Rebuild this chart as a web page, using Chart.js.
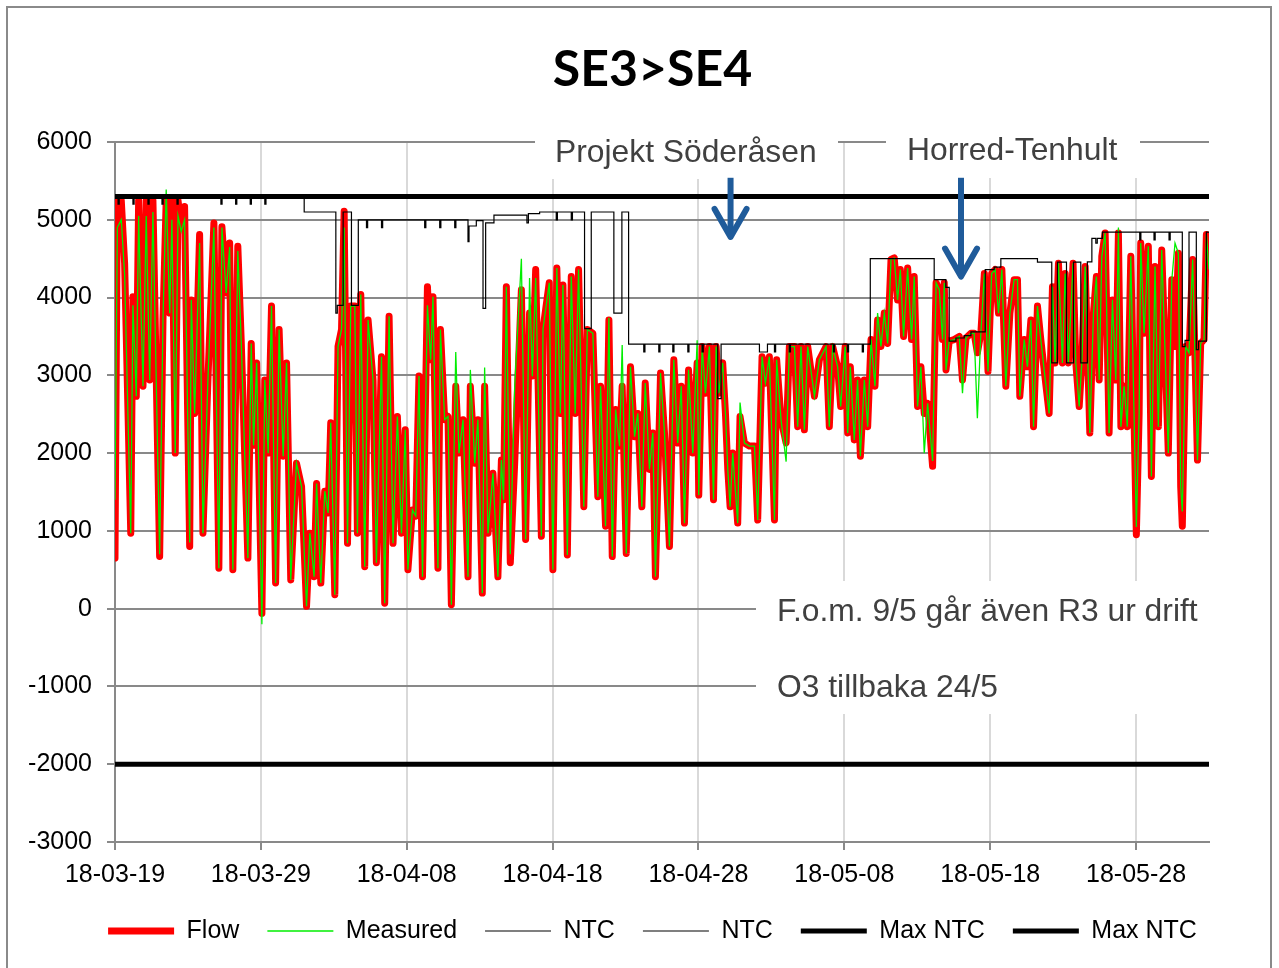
<!DOCTYPE html>
<html><head><meta charset="utf-8">
<script src="https://cdn.jsdelivr.net/npm/chart.js@4.4.1/dist/chart.umd.min.js"></script>
<style>html,body{margin:0;padding:0;background:#fff;overflow:hidden}canvas{display:block}</style>
</head><body>
<canvas id="c" width="1279" height="968"></canvas>
<script>
const chartTitle = 'SE3>SE4';
const tickDays = [0, 10, 20, 30, 40, 50, 60, 70];
const tickLabels = ['18-03-19','18-03-29','18-04-08','18-04-18','18-04-28','18-05-08','18-05-18','18-05-28'];
const yTickValues = [-3000,-2000,-1000,0,1000,2000,3000,4000,5000,6000];

const flowDays = [
0.00,0.16,0.43,0.66,1.08,1.23,1.46,1.62,1.92,2.14,
2.38,2.60,3.06,3.29,3.51,3.75,3.90,4.13,4.32,4.54,
4.77,5.12,5.23,5.46,5.80,6.03,6.37,6.78,7.12,7.33,
7.62,7.86,8.08,8.42,8.65,9.11,9.34,9.50,9.71,10.07,
10.27,10.50,10.73,11.01,11.25,11.53,11.76,12.05,12.44,12.79,
13.13,13.36,13.65,13.82,14.11,14.38,14.61,14.79,15.07,15.29,
15.53,15.71,15.94,16.16,16.44,16.62,16.85,17.12,17.35,17.69,
17.92,18.27,18.49,18.79,19.06,19.36,19.64,19.90,20.08,20.39,
20.62,20.84,21.08,21.42,21.64,21.80,22.14,22.31,22.60,22.83,
23.06,23.36,23.58,23.86,24.20,24.36,24.66,24.88,25.18,25.34,
25.57,25.91,26.25,26.49,26.64,26.83,27.10,27.40,27.86,28.15,
28.42,28.61,28.84,29.23,29.34,29.77,30.02,30.29,30.53,30.71,
31.01,31.28,31.55,31.78,32.14,32.38,32.76,33.10,33.29,33.63,
33.86,34.09,34.32,34.59,34.77,35.05,35.34,35.62,35.84,36.12,
36.35,36.64,36.87,37.05,37.40,37.67,38.01,38.31,38.58,38.82,
39.04,39.32,39.61,39.91,40.02,40.25,40.48,40.75,41.03,41.21,
41.39,41.66,41.85,42.01,42.17,42.35,42.69,42.85,43.15,43.49,
43.84,44.06,44.36,44.59,44.86,45.21,45.36,45.66,46.01,46.23,
46.58,46.80,47.03,47.26,47.49,47.95,48.29,48.75,48.97,49.20,
49.54,49.75,50.06,50.23,50.41,50.68,50.91,51.10,51.37,51.60,
51.83,52.10,52.28,52.51,52.74,52.97,53.20,53.42,53.65,53.84,
54.06,54.34,54.61,54.79,55.02,55.25,55.48,55.71,56.05,56.29,
56.51,56.73,56.85,56.97,57.19,57.53,57.88,58.10,58.34,58.68,
58.90,59.12,59.36,59.60,59.85,60.10,60.34,60.57,60.80,61.07,
61.35,61.64,61.87,62.03,62.33,62.55,62.79,62.97,63.24,63.47,
63.70,64.04,64.27,64.45,64.68,64.95,65.14,65.36,65.68,65.87,
66.10,66.28,66.51,66.83,67.08,67.28,67.47,67.65,67.88,68.15,
68.38,68.61,68.79,68.96,69.18,69.40,69.64,70.02,70.21,70.32,
70.55,70.84,71.05,71.30,71.53,71.76,71.99,72.21,72.45,72.67,
72.90,73.06,73.17,73.40,73.63,73.88,74.21,74.43,74.66,74.82,
75.00];

const flowValues = [
650,5250,5250,4440,970,4010,2730,5250,2860,5250,
2940,5250,670,3710,5250,3800,5250,2000,5250,4910,
5170,800,3970,2510,4810,970,2940,4960,520,4910,
4060,4700,500,4660,3460,650,3410,2100,3160,-60,
2940,2000,3890,330,3590,1960,3160,370,1870,1570,
30,970,410,1610,330,1510,1230,2390,180,3370,
3590,5110,840,3890,3890,970,4040,540,3710,2940,
590,3240,70,3760,840,2470,970,2300,500,1270,
1190,2990,410,4140,3200,4010,520,3590,2430,2470,
50,2860,2000,2430,410,2860,1870,2430,200,2860,
970,1740,410,1910,1400,4140,590,1870,4100,890,
3800,2990,4360,930,3590,4190,500,4380,2510,4160,
690,4270,2510,4360,1310,3590,3540,1440,2860,1060,
3710,670,2560,2090,2860,710,3110,2210,2510,1310,
2900,1790,2260,410,3030,2260,800,3200,2130,2860,
1100,3070,2000,3160,1460,3370,2770,3370,1400,3370,
2770,3160,2510,1790,1310,2000,1100,2470,2130,2090,
2090,1140,3240,2900,3240,1140,3200,2430,2130,3370,
3370,2340,3370,2300,3370,2730,3200,3370,2340,3370,
3110,2600,3370,2260,3110,2170,2940,1960,2940,2340,
3460,2860,3710,3370,3800,3410,4490,4510,3970,4360,
3500,4380,3460,4270,2600,3110,2510,2640,1830,4190,
4100,3460,4190,3070,3440,3460,3500,2940,3480,3540,
3540,3290,3540,4310,3050,4310,4360,3800,4360,2860,
3800,4230,4230,2730,3460,3110,3710,2340,3890,3460,
3070,2510,4140,3160,4440,3160,4310,3160,4440,3160,
2600,3160,4400,2260,3800,4270,2940,4530,4830,2260,
3970,2940,4830,2340,2860,2340,4530,950,2510,4700,
3540,4660,1700,4400,2340,4610,3290,2000,4230,3370,
4570,1570,1060,3370,3290,4490,1910,3410,3460,4810,
4360];

const measuredValues = [
1400,4900,5000,4300,970,3900,2730,5050,2860,5050,
2940,5100,700,3710,5390,3800,5000,2000,5050,4850,
5000,850,3970,2510,4700,970,2940,4900,520,4900,
4060,4650,500,4600,3460,650,3410,2100,3160,-200,
2940,2000,3890,330,3590,1960,3160,370,1870,1570,
30,970,410,1610,330,1510,1230,2390,180,3370,
3590,4900,840,3890,3890,970,4040,540,3710,2940,
590,3240,70,3760,840,2470,970,2300,500,1270,
1190,2990,410,3900,3200,4010,520,3590,2430,2470,
50,3300,2000,2430,410,3070,1870,2430,200,3100,
970,1740,410,1910,1400,4140,700,2850,4500,890,
4250,2990,4250,930,3590,4190,500,4380,2510,4160,
690,4270,2510,4360,1310,3590,3540,1440,2860,1060,
3740,670,2560,2090,3390,710,3110,2210,2510,1310,
2900,1790,2260,410,3030,2260,800,3200,2130,2860,
1100,3070,2000,3450,1460,3370,2770,3370,1400,3370,
2770,3160,2510,1790,1310,2000,1100,2650,2130,2090,
2090,1140,3240,2900,3240,1140,3200,2430,1890,3370,
3370,2340,3370,2300,3370,2730,3200,3370,2340,3370,
3110,2600,3370,2260,3110,2170,2940,1960,2940,2340,
3460,2860,3800,3370,3800,3410,4490,4510,3970,4360,
3500,4380,3460,4270,2600,3110,2000,2640,1900,4190,
4100,3460,4190,3070,3440,3460,3500,2770,3480,3540,
3540,2450,3540,4310,3050,4310,4360,3800,4360,2860,
3800,4230,4230,2730,3460,3110,3710,2340,3890,3460,
3070,2510,4140,3160,4440,3160,4310,3160,4440,3160,
2600,3160,4400,2260,3800,4270,2940,4530,4830,2260,
3970,2940,4900,2340,2860,2340,4530,1050,2510,4700,
3540,4660,1700,4400,2340,4610,3290,2000,4230,4700,
4570,1570,1250,3370,3290,4490,1910,3410,3460,4810,
4360];

const ntcDays = [
0,0.21,0.29,1.23,1.31,2.26,2.34,3.22,3.30,4.25,4.33,7.26,7.34,8.27,8.35,9.27,9.35,10.27,10.35,
12.97,15.14,15.24,15.64,16.21,16.68,
17.24,17.32,18.27,18.35,21.23,21.31,22.26,22.34,23.29,23.37,
24.20,24.27,24.77,25.23,25.41,25.98,28.24,28.34,29.11,
30.25,30.33,31.28,31.36,32.19,32.65,34.20,34.75,35.21,
36.25,36.33,37.28,37.36,38.24,38.32,39.27,39.35,40.25,40.33,41.32,41.55,
44.18,44.73,45.21,45.29,46.23,46.31,49.25,49.33,50.21,50.29,51.23,51.31,
51.78,56.16,56.96,57.19,57.65,58.22,58.68,59.66,60.27,60.73,
63.24,64.22,64.61,65.23,65.71,66.21,66.66,66.97,67.24,67.34,67.69,
70.25,70.33,71.23,71.31,72.26,72.34,73.17,73.36,73.63,74.13,74.28,74.82,75.00];
const ntcValues = [
5300,5200,5300,5200,5300,5200,5300,5200,5300,5200,5300,5200,5300,5200,5300,5200,5300,5200,5300,
5100,3800,3900,5100,3900,5000,
4900,5000,4900,5000,4900,5000,4900,5000,4900,5000,
4720,4920,4990,3860,4960,5060,4960,5080,5100,
5000,5100,5000,5100,3600,5100,3800,5100,3400,
3300,3400,3300,3400,3300,3400,3300,3400,3300,3400,2700,3400,
3300,3400,3300,3400,3300,3400,3300,3400,3300,3400,3300,3400,
4500,4230,4130,3440,3480,3510,3560,4360,4390,4500,
4455,3160,4455,3160,4455,3160,4460,4760,4700,4760,4840,
4740,4840,4740,4840,4740,4840,3370,3450,4840,3330,3440,4840,4840];

const ntc2Days = [0, 75];
const ntc2Values = [-2000, -2000];
const maxNtcDays = [0, 75];
const maxNtcExport = [5300, 5300];
const maxNtcImport = [-2000, -2000];

const arrowDays = [42.2, 58.0];
const arrowTopValue = 5540;
const arrowTipValues = [4780, 4270];

const pts = (xs, ys) => xs.map((x, i) => ({x: x, y: ys[i]}));
const FONT = '"Liberation Sans", Arial, sans-serif';

const framePlugin = {
  id: 'frame',
  beforeDraw(chart) {
    const c = chart.ctx;
    c.save();
    c.fillStyle = '#fff';
    c.fillRect(0, 0, chart.width, chart.height);
    c.strokeStyle = '#8a8a8a';
    c.lineWidth = 2;
    c.strokeRect(7, 7, 1264, 1000);
    c.restore();
  }
};

const notesPlugin = {
  id: 'notes',
  afterDraw(chart) {
    const c = chart.ctx;
    const xs = chart.scales.x, ys = chart.scales.y;
    c.save();
    c.fillStyle = '#fff';
    c.fillRect(535, 110, 303, 69);
    c.fillRect(886, 110, 254, 68);
    c.fillRect(756, 581, 460, 133);
    c.fillStyle = '#404040';
    c.font = '31.8px ' + FONT;
    c.textBaseline = 'alphabetic';
    c.textAlign = 'left';
    c.fillText('Projekt Söderåsen', 555, 162);
    c.fillText('Horred-Tenhult', 907, 160);
    c.fillText('F.o.m. 9/5 går även R3 ur drift', 777, 621);
    c.fillText('O3 tillbaka 24/5', 777, 697);
    c.strokeStyle = '#1f5b9a';
    c.lineWidth = 6;
    c.lineJoin = 'round';
    arrowDays.forEach((d, i) => {
      const x = xs.getPixelForValue(d);
      const y0 = ys.getPixelForValue(arrowTopValue);
      const y1 = ys.getPixelForValue(arrowTipValues[i]);
      c.beginPath();
      c.lineCap = 'butt';
      c.moveTo(x, y0); c.lineTo(x, y1 - 2);
      c.stroke();
      c.beginPath();
      c.lineCap = 'round';
      c.moveTo(x - 16, y1 - 28); c.lineTo(x, y1); c.lineTo(x + 16, y1 - 28);
      c.stroke();
    });
    c.restore();
  }
};

function build() {
  const lineBase = {pointRadius: 0, pointHoverRadius: 0, tension: 0, fill: false};
  new Chart(document.getElementById('c'), {
    type: 'line',
    data: {
      datasets: [
        Object.assign({label: 'Flow', data: pts(flowDays, flowValues), borderColor: '#ff0000', backgroundColor: '#ff0000',
          borderWidth: 7, pointBorderWidth: 7, pointBorderColor: '#ff0000', borderJoinStyle: 'round', borderCapStyle: 'round', order: 6}, lineBase),
        Object.assign({label: 'Measured', data: pts(flowDays, measuredValues), borderColor: '#00ee00', backgroundColor: '#00ee00',
          borderWidth: 1.3, pointBorderWidth: 1.3, pointBorderColor: '#00ee00', order: 5}, lineBase),
        Object.assign({label: 'NTC', data: pts(ntcDays, ntcValues), stepped: true, borderColor: '#000', backgroundColor: '#000',
          borderWidth: 1.2, pointBorderWidth: 1.2, pointBorderColor: '#000', order: 4}, lineBase),
        Object.assign({label: 'NTC', data: pts(ntc2Days, ntc2Values), stepped: true, borderColor: '#000', backgroundColor: '#000',
          borderWidth: 1.2, pointBorderWidth: 1.2, pointBorderColor: '#000', order: 3}, lineBase),
        Object.assign({label: 'Max NTC', data: pts(maxNtcDays, maxNtcExport), borderColor: '#000', backgroundColor: '#000',
          borderWidth: 5, pointBorderWidth: 5, pointBorderColor: '#000', borderCapStyle: 'round', order: 2}, lineBase),
        Object.assign({label: 'Max NTC', data: pts(maxNtcDays, maxNtcImport), borderColor: '#000', backgroundColor: '#000',
          borderWidth: 5, pointBorderWidth: 5, pointBorderColor: '#000', borderCapStyle: 'round', order: 1}, lineBase)
      ]
    },
    options: {
      responsive: false, animation: false, devicePixelRatio: 1,
      events: [],
      layout: {padding: {left: 26, right: 0, top: 0, bottom: 14.5}},
      plugins: {
        title: {display: true, text: chartTitle, color: '#000',
          font: {family: 'Lato, "Liberation Sans", sans-serif', size: 50, weight: 'bold', lineHeight: 1.2},
          padding: {top: 40, bottom: 42}},
        legend: {position: 'bottom',
          labels: {usePointStyle: true, pointStyle: 'line', pointStyleWidth: 66, padding: 28, color: '#000',
            font: {family: FONT, size: 25}, sort: (a, b) => a.datasetIndex - b.datasetIndex}},
        tooltip: {enabled: false}
      },
      scales: {
        x: {type: 'linear', min: 0, max: 75,
          afterBuildTicks: s => { s.ticks = tickDays.map(v => ({value: v})); },
          afterFit: s => { s.height = 48.5; },
          grid: {color: '#d9d9d9', lineWidth: 2, tickLength: 8, tickColor: '#898989'},
          border: {color: '#898989', width: 2},
          ticks: {autoSkip: false, maxRotation: 0, minRotation: 0, padding: 10, color: '#000',
            font: {family: FONT, size: 25},
            callback: v => { const i = tickDays.indexOf(v); return i >= 0 ? tickLabels[i] : ''; }}},
        y: {type: 'linear', position: 'left', min: -3000, max: 6000,
          afterBuildTicks: s => { s.ticks = yTickValues.map(v => ({value: v})); },
          afterFit: s => { s.width = 89; },
          grid: {color: '#898989', lineWidth: 2, tickLength: 8},
          border: {color: '#898989', width: 2},
          ticks: {padding: 15, color: '#000', font: {family: FONT, size: 25},
            callback: v => String(v)}},
        yGap: {type: 'linear', position: 'right', display: true,
          afterFit: s => { s.width = 70; },
          grid: {display: false}, border: {display: false}, ticks: {display: false}}
      }
    },
    plugins: [framePlugin, notesPlugin]
  });
}

let built = false;
function go() { if (!built) { built = true; build(); } }
Promise.all(['bold 50px Lato', '25px "Liberation Sans"', '31.8px "Liberation Sans"'].map(f => document.fonts.load(f)))
  .then(go, go);
setTimeout(go, 1500);
</script>
</body></html>
